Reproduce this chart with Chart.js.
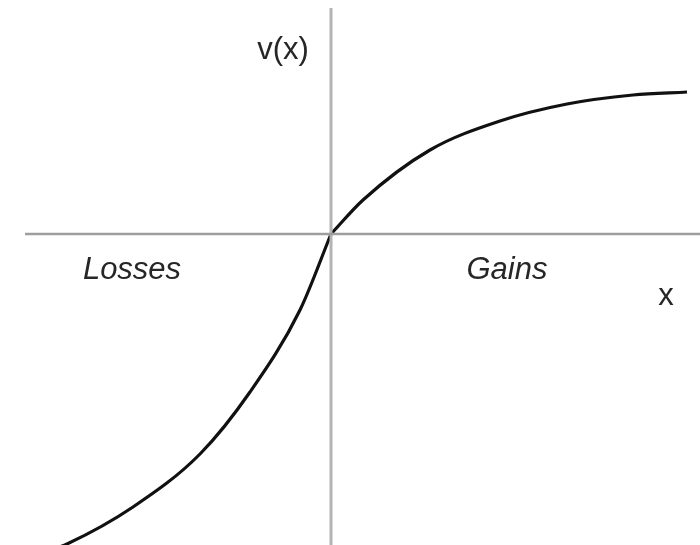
<!DOCTYPE html>
<html>
<head>
<meta charset="utf-8">
<script src="https://cdn.jsdelivr.net/npm/chart.js@4/dist/chart.umd.min.js"></script>
<style>
  html, body { margin: 0; padding: 0; background: #fff; }
  #wrap { width: 700px; height: 545px; position: relative; }
</style>
</head>
<body>
<div id="wrap"><canvas id="valueChart"></canvas></div>
<script>
// value function v(x) (x = gains/losses, y = value)
const lossX = [-28.0, -26.4, -19.8, -13.1, -8.1, -3.1, 0];
const lossY = [-31.6, -31.0, -27.3, -22.0, -15.8, -7.6, 0];
const gainX = [0, 3.2, 9.9, 16.9, 23.6, 30.2, 35.6];
const gainY = [0, 3.4, 8.4, 11.3, 13.0, 13.9, 14.2];

// axis extents
const xRange = [-33.1, 36.9];
const yRange = [-31.1, 23.4];
const hAxisX = [-30.6, 36.9];
const vAxisY = [-31.1, 22.6];

// labels
const labelText = ["v(x)", "Losses", "Gains", "x"];
const labelX = [-4.8, -19.9, 17.6, 33.5];
const labelY = [18.4, -3.6, -3.6, -6.2];
const labelItalic = [false, true, true, false];

function toPoints(xs, ys) {
  return xs.map(function(v, i) { return {x: v, y: ys[i]}; });
}

const textPlugin = {
  id: 'axisText',
  afterDatasetsDraw: function(chart) {
    var ctx = chart.ctx;
    var xs = chart.scales.x, ys = chart.scales.y;
    ctx.save();
    ctx.fillStyle = '#262626';
    ctx.textAlign = 'center';
    ctx.textBaseline = 'middle';
    for (var i = 0; i < labelText.length; i++) {
      ctx.font = (labelItalic[i] ? 'italic ' : '') + '31px "Liberation Sans", Arial, sans-serif';
      ctx.fillText(labelText[i], xs.getPixelForValue(labelX[i]), ys.getPixelForValue(labelY[i]));
    }
    ctx.restore();
  }
};

const CHART = document.getElementById("valueChart");
var valueChart = new Chart(CHART, {
  type: 'scatter',
  data: {
    datasets: [{
      label: 'x axis',
      data: [{x: hAxisX[0], y: 0}, {x: hAxisX[1], y: 0}],
      showLine: true,
      borderColor: '#9e9e9e',
      borderWidth: 2.5,
      pointRadius: 0
    }, {
      label: 'v axis',
      data: [{x: 0, y: vAxisY[0]}, {x: 0, y: vAxisY[1]}],
      showLine: true,
      borderColor: '#b4b4b4',
      borderWidth: 3,
      pointRadius: 0
    }, {
      label: 'losses',
      data: toPoints(lossX, lossY),
      showLine: true,
      borderColor: '#111',
      borderWidth: 3.2,
      pointRadius: 0,
      cubicInterpolationMode: 'monotone'
    }, {
      label: 'gains',
      data: toPoints(gainX, gainY),
      showLine: true,
      borderColor: '#111',
      borderWidth: 3.2,
      pointRadius: 0,
      cubicInterpolationMode: 'monotone'
    }]
  },
  options: {
    responsive: true,
    maintainAspectRatio: false,
    animation: false,
    layout: { padding: 0 },
    plugins: {
      legend: { display: false },
      tooltip: { enabled: false }
    },
    scales: {
      x: { type: 'linear', min: xRange[0], max: xRange[1], display: false },
      y: { type: 'linear', min: yRange[0], max: yRange[1], display: false }
    }
  },
  plugins: [textPlugin]
});
</script>
</body>
</html>
